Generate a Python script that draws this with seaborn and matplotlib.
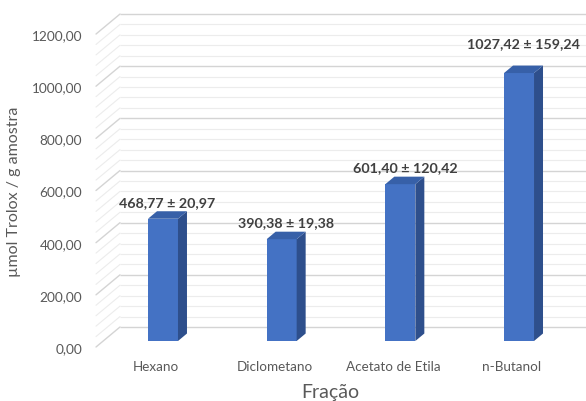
import matplotlib
matplotlib.use("Agg")
import matplotlib.pyplot as plt
import matplotlib.transforms as mtransforms
from matplotlib.patches import Polygon
import seaborn as sns
import numpy as np

# Data
categories = ["Hexano", "Diclometano", "Acetato de Etila", "n-Butanol"]
values = [468.77, 390.38, 601.40, 1027.42]
errors = [20.97, 19.38, 120.42, 159.24]
ytick_values = [0, 200, 400, 600, 800, 1000, 1200]
ylabel = "µmol Trolox / g amostra"
xlabel = "Fração"

sns.set_theme(style="white")
plt.rcParams["font.family"] = ["Lato", "DejaVu Sans"]

W, H, DPI = 586, 402, 100
fig = plt.figure(figsize=(W / DPI, H / DPI), dpi=DPI)

# axes geometry in pixels
px_scale = 0.2608            # pixels per unit
cat_step = 118.7             # pixels per category
left_px, bottom_px = 96, 54
zero_px = 60                 # bar-plane zero, from bottom
ax = fig.add_axes([left_px / W, bottom_px / H, (W - left_px) / W, (H - bottom_px) / H])

def xu(px):
    return px / cat_step

def yu(px):
    return px / px_scale

FRONT_TEXT = "#595959"
MAJOR = "#d4d4d4"
MINOR = "#ececec"

# front faces through seaborn
bar_w = 30 / cat_step
sns.barplot(x=categories, y=values, color="#4472C4", saturation=1, width=bar_w,
            ax=ax, zorder=3, linewidth=0, errorbar=None)

ax.set_xlim(-(163 - left_px) / cat_step, 3 + (W - 519) / cat_step)
ax.set_ylim((bottom_px - zero_px) / px_scale, (H - zero_px) / px_scale)

# back wall offset and side wall geometry (data units)
wall_dy = yu(14)
front_dy = -yu(6)
x_front = ax.get_xlim()[0]
x_back = x_front + xu(24)
x_right = ax.get_xlim()[1]

grid_vals = np.arange(0, 1201, 40)
for v in grid_vals:
    major = (v % 200 == 0)
    col = MAJOR if major else MINOR
    lw = 1.0 if major else 0.8
    # back wall
    ax.plot([x_back, x_right], [v + wall_dy, v + wall_dy], color=col, lw=lw,
            zorder=1, clip_on=False, solid_capstyle="butt")
    # side wall
    ax.plot([x_front, x_back], [v + front_dy, v + wall_dy], color=col, lw=lw,
            zorder=1, clip_on=False)

# depth of each column
dx, dy = xu(9), yu(7.5)
SIDE = "#2E4F8C"
TOP = "#3760A8"
fronts = list(ax.patches)
for p in fronts:
    x0, w, h = p.get_x(), p.get_width(), p.get_height()
    x1 = x0 + w
    side = Polygon([(x1, 0), (x1, h), (x1 + dx, h + dy), (x1 + dx, dy)],
                   closed=True, facecolor=SIDE, edgecolor="none", zorder=3)
    top = Polygon([(x0, h), (x1, h), (x1 + dx, h + dy), (x0 + dx, h + dy)],
                  closed=True, facecolor=TOP, edgecolor="none", zorder=3)
    ax.add_patch(side)
    ax.add_patch(top)

# value labels
lifts = [17, 17, 17, 30]
for p, v, e, lift in zip(fronts, values, errors, lifts):
    cx = p.get_x() + p.get_width() / 2 + dx / 2
    label = f"{v:.2f}".replace(".", ",") + " ± " + f"{e:.2f}".replace(".", ",")
    ax.annotate(label, xy=(cx, v), xytext=(0, lift * 72 / DPI), textcoords="offset points",
                ha="center", va="center", fontsize=10.3, fontweight="bold",
                color="#404040", zorder=5, annotation_clip=False)

# axes, ticks
for s in ax.spines.values():
    s.set_visible(False)
ax.set_yticks(ytick_values)
ax.set_yticklabels([f"{t:.2f}".replace(".", ",") for t in ytick_values],
                   fontsize=9.8, color=FRONT_TEXT)
ax.tick_params(axis="y", length=0, pad=14 * 72 / DPI)
ax.tick_params(axis="x", length=0, pad=13 * 72 / DPI)
ax.set_xticks(range(len(categories)))
ax.set_xticklabels(categories, fontsize=9.7, color=FRONT_TEXT)
yoff = mtransforms.ScaledTranslation(0, front_dy * px_scale / DPI, fig.dpi_scale_trans)
for lab in ax.get_yticklabels():
    lab.set_transform(lab.get_transform() + yoff)
xoff = mtransforms.ScaledTranslation(-7 / DPI, 0, fig.dpi_scale_trans)
for lab in ax.get_xticklabels():
    lab.set_transform(lab.get_transform() + xoff)
ax.set_xlabel("")
ax.set_ylabel("")

fig.text(14 / W, 1 - 192 / H, ylabel, rotation=90, ha="center", va="center",
         fontsize=11.5, color=FRONT_TEXT)
fig.text(330 / W, 1 - 393 / H, xlabel, ha="center", va="center",
         fontsize=14, color=FRONT_TEXT)

fig.savefig("out.png", dpi=DPI)
